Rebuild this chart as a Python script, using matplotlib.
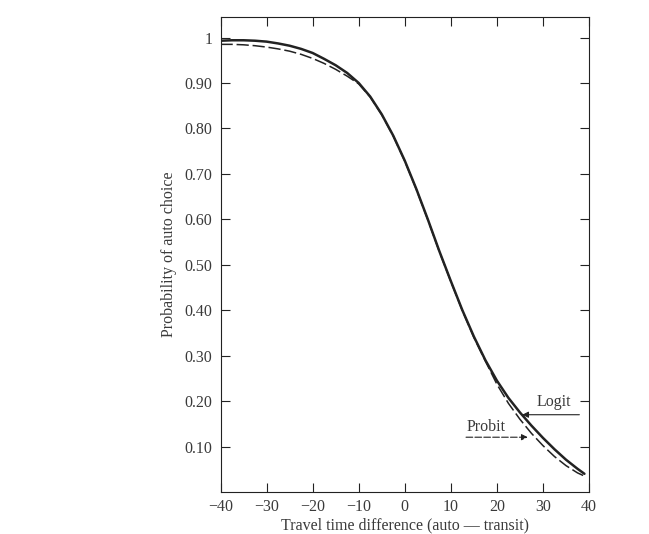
import matplotlib
matplotlib.use("Agg")
import matplotlib.pyplot as plt

# travel time difference (auto - transit)
t = [-40, -37.5, -35, -32.5, -30, -27.5, -25, -22.5, -20, -17.5, -15, -12.5,
     -10, -7.5, -5, -2.5, 0, 2.5, 5, 7.5, 10, 12.5, 15, 17.5, 20, 22.5,
     25, 27.5, 30, 32.5, 35, 37.5, 39]

logit = [0.993, 0.994, 0.994, 0.993, 0.991, 0.987, 0.982, 0.975, 0.966, 0.953,
         0.939, 0.922, 0.900, 0.870, 0.831, 0.784, 0.729, 0.667, 0.600, 0.530,
         0.464, 0.400, 0.342, 0.290, 0.245, 0.207, 0.175, 0.146, 0.119, 0.094,
         0.071, 0.051, 0.040]

probit = [0.985, 0.985, 0.984, 0.982, 0.979, 0.975, 0.970, 0.963, 0.954, 0.943,
          0.930, 0.915, 0.898, 0.869, 0.830, 0.783, 0.728, 0.666, 0.599, 0.529,
          0.463, 0.399, 0.340, 0.288, 0.237, 0.195, 0.160, 0.129, 0.102, 0.078,
          0.058, 0.042, 0.035]

xticks = [-40, -30, -20, -10, 0, 10, 20, 30, 40]
yticks = [0.1, 0.2, 0.3, 0.4, 0.5, 0.6, 0.7, 0.8, 0.9, 1.0]
ylabels = ["0.10", "0.20", "0.30", "0.40", "0.50", "0.60", "0.70", "0.80", "0.90", "1"]

plt.rcParams['font.family'] = ['Liberation Serif', 'DejaVu Serif']
ink = '#222222'
txt = '#3a3a3a'
fs = 11.5

fig = plt.figure(figsize=(6.49, 5.34), dpi=100)
ax = fig.add_axes([0.3398, 0.0787, 0.5678, 0.8893])

ax.plot(t, logit, color=ink, lw=1.8, solid_capstyle='round')
ax.plot(t, probit, color=ink, lw=1.1, dashes=(8, 2.5))

ax.set_xlim(-40, 40)
ax.set_ylim(0, 1.045)
ax.set_xticks(xticks)
ax.set_xticklabels(["\u2212%d" % -v if v < 0 else str(v) for v in xticks])
ax.set_yticks(yticks)
ax.set_yticklabels(ylabels)

ax.tick_params(axis='both', direction='in', length=6.5, width=0.8, color=ink,
               labelsize=fs, labelcolor=txt, top=True, right=True)
ax.tick_params(axis='x', pad=5)
ax.tick_params(axis='y', pad=6)
for s in ax.spines.values():
    s.set_linewidth(0.8)
    s.set_color(ink)

ax.set_xlabel("Travel time difference (auto \u2014 transit)", fontsize=fs,
              color=txt, labelpad=2)
ax.set_ylabel("Probability of auto choice", fontsize=fs, color=txt, labelpad=5)

# curve labels with pointer arrows
ax.text(32.3, 0.197, "Logit", fontsize=fs, color=txt, ha='center', va='center')
ax.annotate("", xy=(25.5, 0.170), xytext=(37.9, 0.170),
            arrowprops=dict(arrowstyle='-|>', color=ink, lw=0.8,
                            mutation_scale=9, shrinkA=0, shrinkB=0))
ax.text(17.6, 0.142, "Probit", fontsize=fs, color=txt, ha='center', va='center')
ax.annotate("", xy=(26.7, 0.1205), xytext=(13.3, 0.1205),
            arrowprops=dict(arrowstyle='-|>', color=ink, lw=0.8, ls=(0, (6, 2)),
                            mutation_scale=9, shrinkA=0, shrinkB=0))

fig.savefig("out.png", dpi=100)
